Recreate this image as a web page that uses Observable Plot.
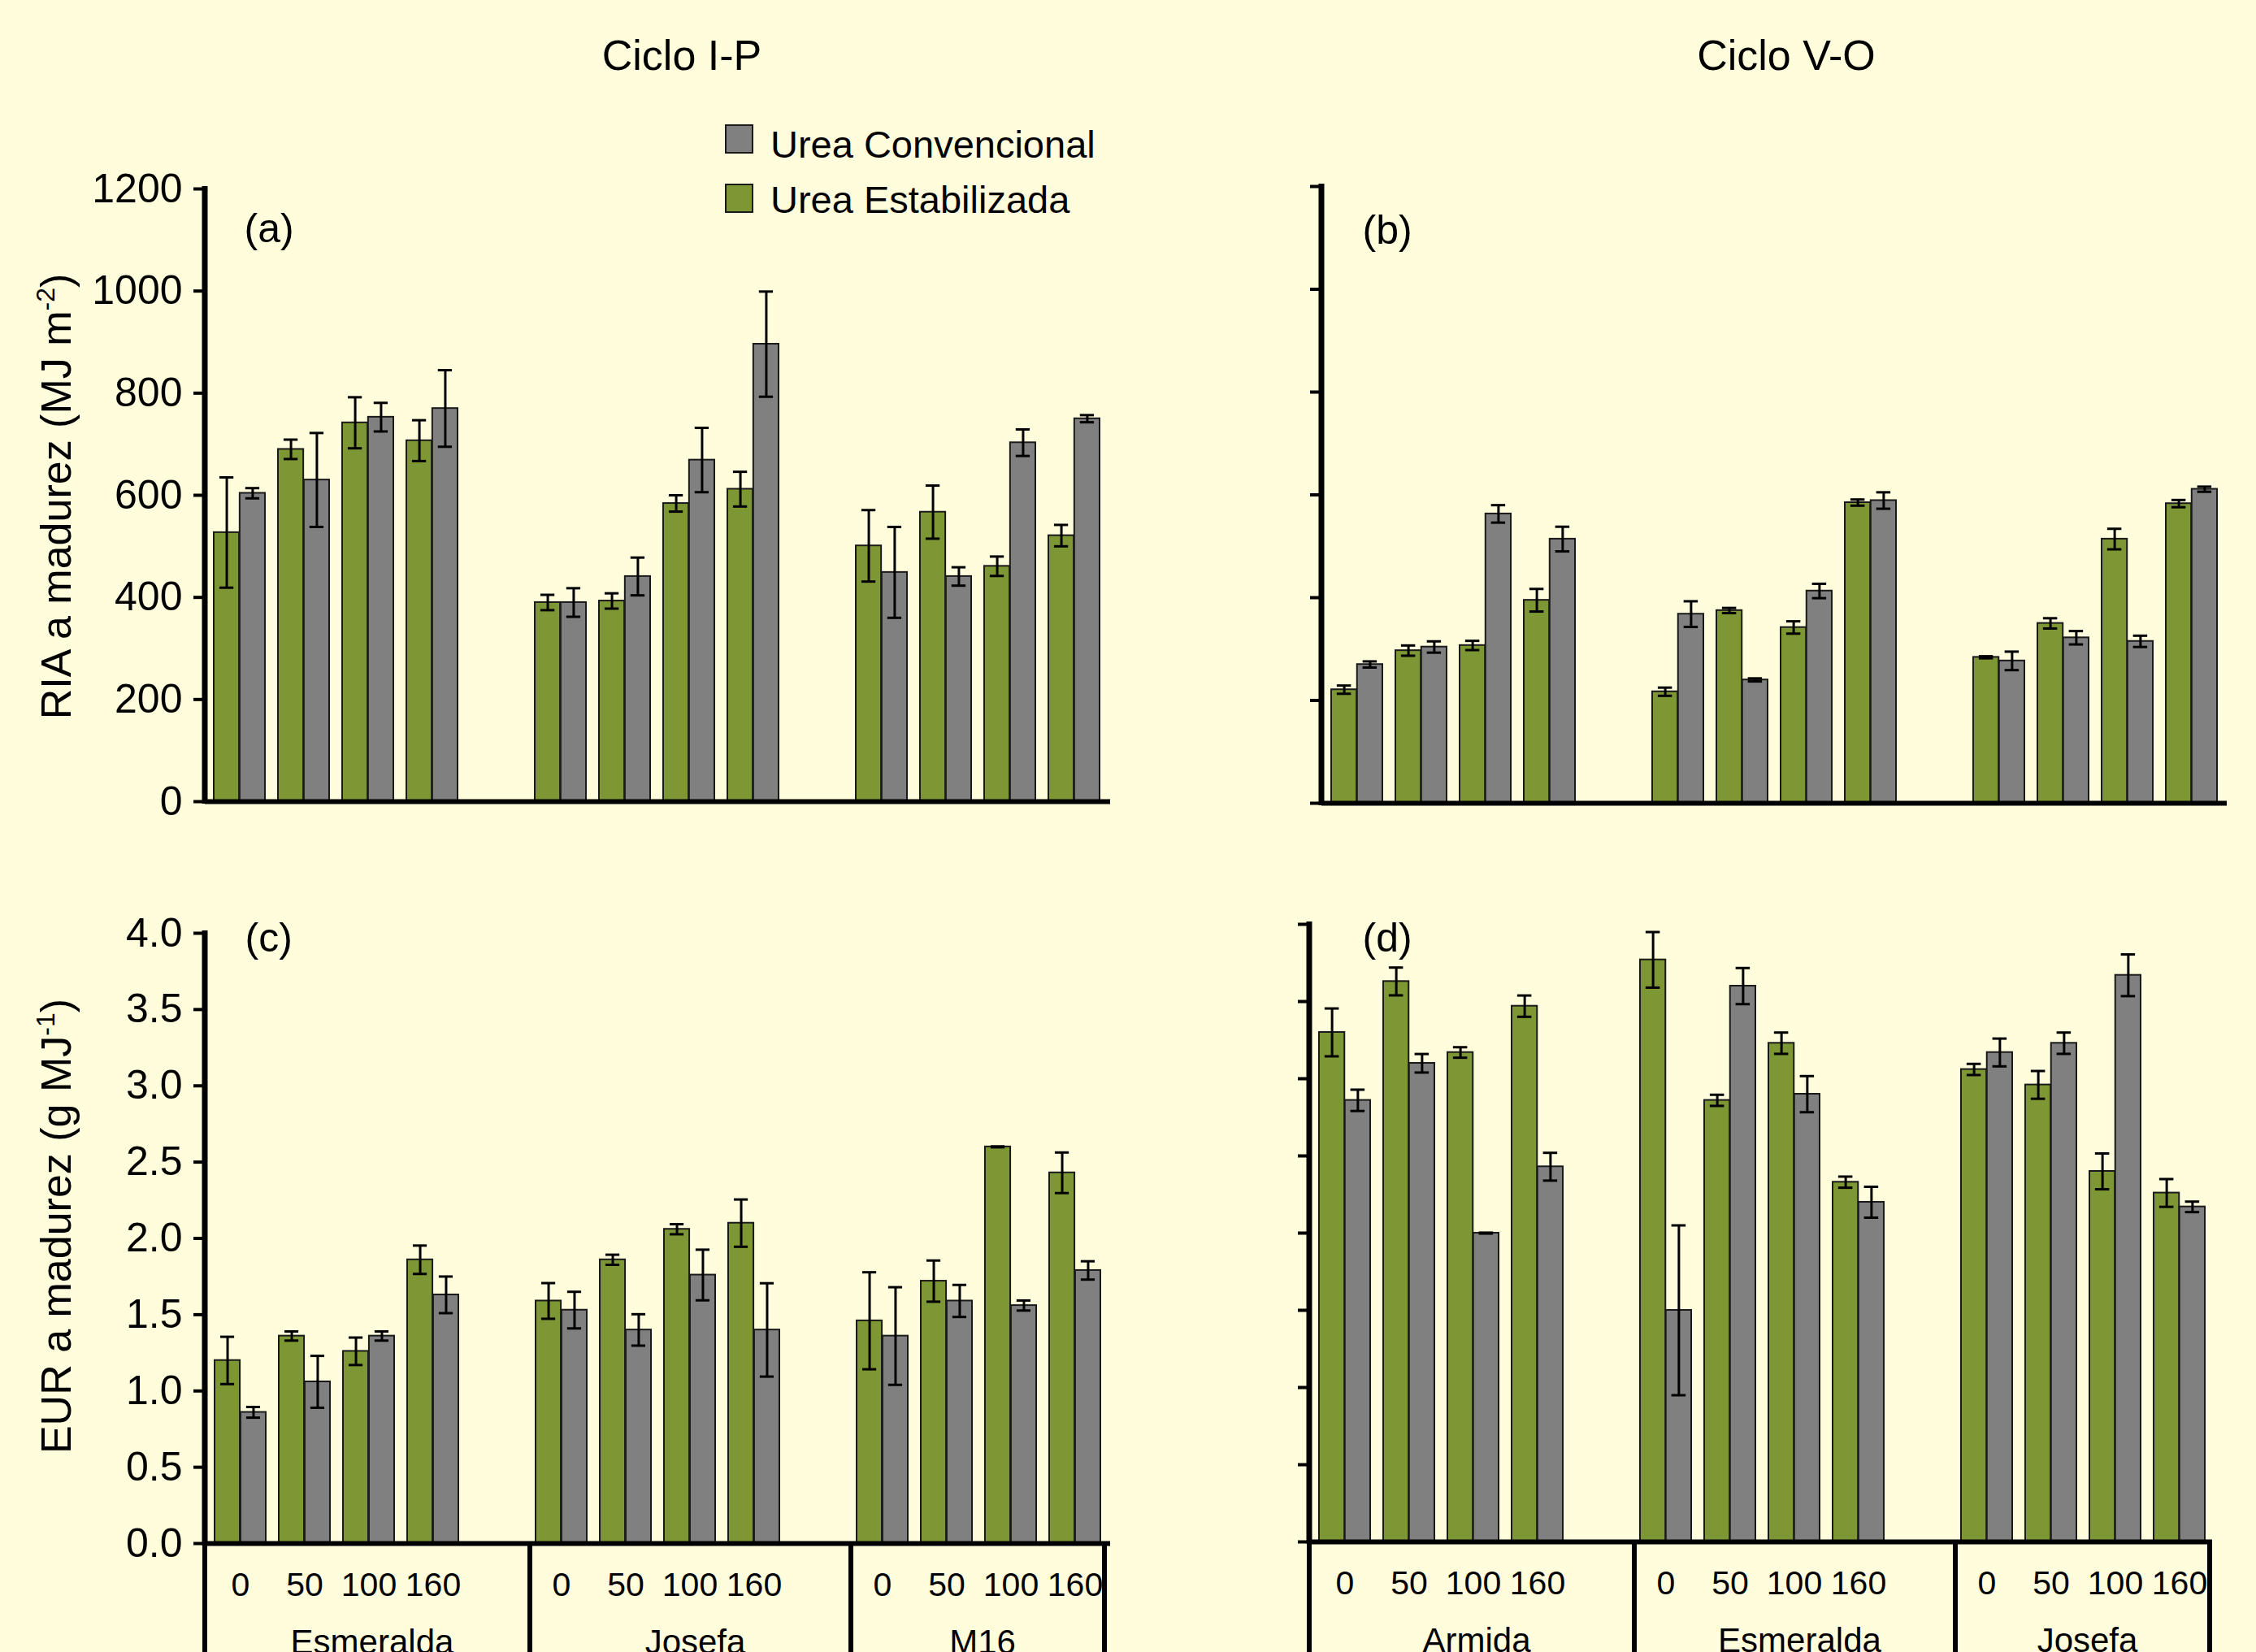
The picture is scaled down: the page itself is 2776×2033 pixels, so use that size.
<!DOCTYPE html>
<html><head><meta charset="utf-8">
<script src="https://cdn.jsdelivr.net/npm/d3@7"></script>
<script src="https://cdn.jsdelivr.net/npm/@observablehq/plot@0.6"></script>
<style>
html,body{margin:0;padding:0;background:#FFFDDC;}
#fig{position:relative;width:2776px;height:2033px;background:#FFFDDC;overflow:hidden;font-family:"Liberation Sans",Arial,sans-serif;color:#000;}
.abs{position:absolute;white-space:nowrap;}
</style></head><body><div id="fig"></div>
<script>
// ---------- DATA ----------
const dosis = ["0", "50", "100", "160"];
const cultivaresIP = ["Esmeralda", "Josefa", "M16"];
const cultivaresVO = ["Armida", "Esmeralda", "Josefa"];
const series = ["Urea Convencional", "Urea Estabilizada"];

// order: cultivar x dosis (0, 50, 100, 160)
const riaIP_est     = [527, 690, 742, 707,  390, 393, 584, 612,  501, 567, 461, 521];
const riaIP_estErr  = [108, 19, 50, 40,     15, 15, 16, 34,      70, 52, 19, 21];
const riaIP_conv    = [604, 630, 753, 770,  390, 441, 669, 896,  449, 441, 703, 750];
const riaIP_convErr = [10, 92, 28, 75,      28, 37, 63, 103,     89, 18, 26, 7];

const riaVO_est     = [221, 297, 307, 395,  217, 375, 342, 585,  284, 350, 514, 583];
const riaVO_estErr  = [8, 10, 9, 22,        8, 5, 12, 6,         2, 10, 20, 7];
const riaVO_conv    = [270, 304, 563, 514,  368, 240, 413, 589,  277, 322, 315, 611];
const riaVO_convErr = [6, 11, 17, 24,       25, 3, 14, 16,       18, 13, 11, 5];

const eurIP_est     = [1.20, 1.36, 1.26, 1.86,  1.59, 1.86, 2.06, 2.10,  1.46, 1.72, 2.60, 2.43];
const eurIP_estErr  = [0.155, 0.03, 0.09, 0.093, 0.117, 0.033, 0.033, 0.155, 0.318, 0.135, 0.003, 0.133];
const eurIP_conv    = [0.86, 1.06, 1.36, 1.63,  1.53, 1.40, 1.76, 1.40,  1.36, 1.59, 1.56, 1.79];
const eurIP_convErr = [0.035, 0.17, 0.03, 0.12, 0.12, 0.103, 0.166, 0.306, 0.32, 0.105, 0.033, 0.06];

const eurVO_est     = [3.30, 3.63, 3.17, 3.47,  3.77, 2.86, 3.23, 2.33,  3.06, 2.96, 2.40, 2.26];
const eurVO_estErr  = [0.155, 0.09, 0.034, 0.069, 0.18, 0.036, 0.069, 0.036, 0.036, 0.09, 0.116, 0.09];
const eurVO_conv    = [2.86, 3.10, 2.00, 2.43,  1.50, 3.60, 2.90, 2.20,  3.17, 3.23, 3.67, 2.17];
const eurVO_convErr = [0.069, 0.06, 0.003, 0.09, 0.55, 0.117, 0.117, 0.10, 0.09, 0.069, 0.135, 0.034];

const riaTicks = [0, 200, 400, 600, 800, 1000, 1200];
const eurTicks = [0, 0.5, 1.0, 1.5, 2.0, 2.5, 3.0, 3.5, 4.0];

// ---------- STYLE ----------
const GREEN = "#7D9734";
const GRAY = "#808080";
const EDGE = "#1a1a1a";
const FONT = "Liberation Sans, Arial, sans-serif";

const fig = document.getElementById("fig");

function panel(o) {
  const domain = [];
  o.cultivares.forEach((c, i) => {
    dosis.forEach(d => domain.push(c + "|" + d));
    if (i < o.cultivares.length - 1) domain.push("sp" + i);
  });
  const est = [], conv = [];
  o.cultivares.forEach((c, i) => dosis.forEach((d, j) => {
    const k = i * 4 + j;
    est.push({key: c + "|" + d, v: o.est[k], e: o.estErr[k]});
    conv.push({key: c + "|" + d, v: o.conv[k], e: o.convErr[k]});
  }));
  const p = 0.2;
  const W = (o.width - o.mL - o.mR) - o.insL - o.insR;
  const step = W / (domain.length - p);
  const bw = step * (1 - p), half = bw / 2, q = bw / 4, cap = 9;
  const lo = d => d.v - d.e, hi = d => d.v + d.e;

  const marks = [
    Plot.barY(est, {x: "key", y: "v", fill: GREEN, stroke: EDGE, strokeWidth: 2, insetRight: half}),
    Plot.barY(conv, {x: "key", y: "v", fill: GRAY, stroke: EDGE, strokeWidth: 2, insetLeft: half}),
    Plot.ruleX(est, {x: "key", y1: lo, y2: hi, dx: -q, stroke: "#000", strokeWidth: 3}),
    Plot.ruleX(conv, {x: "key", y1: lo, y2: hi, dx: q, stroke: "#000", strokeWidth: 3}),
    Plot.tickY(est, {x: "key", y: lo, insetLeft: q - cap, insetRight: bw - q - cap, stroke: "#000", strokeWidth: 3}),
    Plot.tickY(est, {x: "key", y: hi, insetLeft: q - cap, insetRight: bw - q - cap, stroke: "#000", strokeWidth: 3}),
    Plot.tickY(conv, {x: "key", y: lo, insetLeft: bw - q - cap, insetRight: q - cap, stroke: "#000", strokeWidth: 3}),
    Plot.tickY(conv, {x: "key", y: hi, insetLeft: bw - q - cap, insetRight: q - cap, stroke: "#000", strokeWidth: 3}),
    Plot.ruleY([0], {stroke: "#000", strokeWidth: 6}),
    Plot.axisY({ticks: o.yTicks, tickSize: 14, tickPadding: 14, strokeWidth: 4, fontSize: 50, tickFormat: o.tickFormat, label: null}),
    Plot.text([o.letter], {frameAnchor: "top-left", textAnchor: "start", lineAnchor: "middle", dx: o.letterDx, dy: o.letterDy, fontSize: 50})
  ];
  if (o.xLabels) {
    marks.push(Plot.axisX({tickSize: 0, tickPadding: 35, fontSize: 41, label: null,
      tickFormat: k => k.startsWith("sp") ? "" : k.split("|")[1]}));
  }
  const plot = Plot.plot({
    width: o.width, height: o.height,
    marginLeft: o.mL, marginRight: o.mR, marginTop: o.mT, marginBottom: o.mB,
    style: {background: "transparent", fontFamily: FONT, color: "#000", overflow: "hidden"},
    x: {type: "band", domain, paddingInner: p, paddingOuter: 0, insetLeft: o.insL, insetRight: o.insR, label: null, axis: o.xLabels ? undefined : null},
    y: {domain: o.yDomain, label: null},
    marks
  });
  plot.style.position = "absolute";
  plot.style.left = o.left + "px";
  plot.style.top = o.top + "px";
  plot.style.maxWidth = "none";
  fig.appendChild(plot);

  const svg = d3.select(plot);
  const y0 = o.height - o.mB;
  // left axis line
  svg.append("line").attr("x1", o.mL).attr("x2", o.mL)
    .attr("y1", o.mT - 3).attr("y2", y0 + 3)
    .attr("stroke", "#000").attr("stroke-width", 7);

  if (o.yTitle) {
    const t = svg.append("text")
      .attr("transform", `translate(${o.yTitleX},${o.yTitleY}) rotate(-90)`)
      .attr("text-anchor", "middle").attr("font-size", 52).attr("font-family", FONT).attr("fill", "#000");
    t.append("tspan").text(o.yTitle[0]);
    t.append("tspan").attr("dy", -20).attr("font-size", 32).text(o.yTitle[1]);
    t.append("tspan").attr("dy", 20).text(o.yTitle[2]);
  }

  if (o.xLabels) {
    const xs = plot.scale("x");
    const bwS = xs.bandwidth;
    const bounds = [o.mL];
    o.cultivares.forEach((c, i) => { if (i > 0) bounds.push(xs.apply(c + "|0") - 7); });
    const last = o.cultivares[o.cultivares.length - 1] + "|160";
    bounds.push(xs.apply(last) + bwS + o.tableRightPad);
    bounds.forEach(b => {
      svg.append("line").attr("x1", b).attr("x2", b).attr("y1", y0).attr("y2", o.height)
        .attr("stroke", "#000").attr("stroke-width", 6);
    });
    o.cultivares.forEach((c, i) => {
      svg.append("text").attr("x", (bounds[i] + bounds[i + 1]) / 2 + 6).attr("y", y0 + 136)
        .attr("text-anchor", "middle").attr("font-size", 42).attr("font-family", FONT).attr("fill", "#000")
        .text(c);
    });
  }
}

// (a) RIA, Ciclo I-P
panel({cultivares: cultivaresIP, est: riaIP_est, estErr: riaIP_estErr, conv: riaIP_conv, convErr: riaIP_convErr,
  left: 0, top: 200, width: 1400, height: 820, mL: 252, mR: 34, mT: 32, mB: 34, insL: 7, insR: 8,
  yDomain: [0, 1200], yTicks: riaTicks, tickFormat: d => String(d), letter: "(a)", letterDx: 48, letterDy: 49,
  xLabels: false, yTitle: ["RIA a madurez (MJ m", "-2", ")"], yTitleX: 87, yTitleY: 411});

// (b) RIA, Ciclo V-O
panel({cultivares: cultivaresVO, est: riaVO_est, estErr: riaVO_estErr, conv: riaVO_conv, convErr: riaVO_convErr,
  left: 1400, top: 200, width: 1376, height: 820, mL: 226, mR: 36, mT: 29, mB: 32, insL: 9, insR: 9,
  yDomain: [0, 1200], yTicks: riaTicks, tickFormat: () => "", letter: "(b)", letterDx: 50, letterDy: 54,
  xLabels: false});

// (c) EUR, Ciclo I-P
panel({cultivares: cultivaresIP, est: eurIP_est, estErr: eurIP_estErr, conv: eurIP_conv, convErr: eurIP_convErr,
  left: 0, top: 1100, width: 1400, height: 933, mL: 252, mR: 34, mT: 48, mB: 134, insL: 7, insR: 6,
  yDomain: [0, 4], yTicks: eurTicks, tickFormat: d => d.toFixed(1), letter: "(c)", letterDx: 49, letterDy: 6,
  xLabels: true, tableRightPad: 5, yTitle: ["EUR a madurez (g MJ", "-1", ")"], yTitleX: 87, yTitleY: 409});

// (d) EUR, Ciclo V-O
panel({cultivares: cultivaresVO, est: eurVO_est, estErr: eurVO_estErr, conv: eurVO_conv, convErr: eurVO_convErr,
  left: 1400, top: 1100, width: 1376, height: 933, mL: 211, mR: 54, mT: 37, mB: 136, insL: 10, insR: 6,
  yDomain: [0, 4], yTicks: eurTicks, tickFormat: () => "", letter: "(d)", letterDx: 65, letterDy: 17,
  xLabels: true, tableRightPad: 6});

// ---------- Titles & legend ----------
function addText(txt, left, top, fs, align, width) {
  const d = document.createElement("div");
  d.className = "abs";
  d.textContent = txt;
  d.style.left = left + "px"; d.style.top = top + "px";
  d.style.fontSize = fs + "px"; d.style.lineHeight = fs + "px";
  if (align) { d.style.textAlign = align; d.style.width = width + "px"; }
  fig.appendChild(d);
}
addText("Ciclo I-P", 839 - 300, 86 - 0.8465 * 52, 52, "center", 600);
addText("Ciclo V-O", 2198 - 300, 86 - 0.8465 * 52, 52, "center", 600);

const legendColors = [GRAY, GREEN];
const legendBoxTop = [153, 226];
const legendBase = [194, 262];
series.forEach((s, i) => {
  const b = document.createElement("div");
  b.className = "abs";
  b.style.left = "892px"; b.style.top = legendBoxTop[i] + "px";
  b.style.width = "31px"; b.style.height = "32px";
  b.style.background = legendColors[i];
  b.style.border = "2px solid " + EDGE;
  fig.appendChild(b);
  addText(s, 948, legendBase[i] - 0.8465 * 47, 47);
});
</script></body></html>
